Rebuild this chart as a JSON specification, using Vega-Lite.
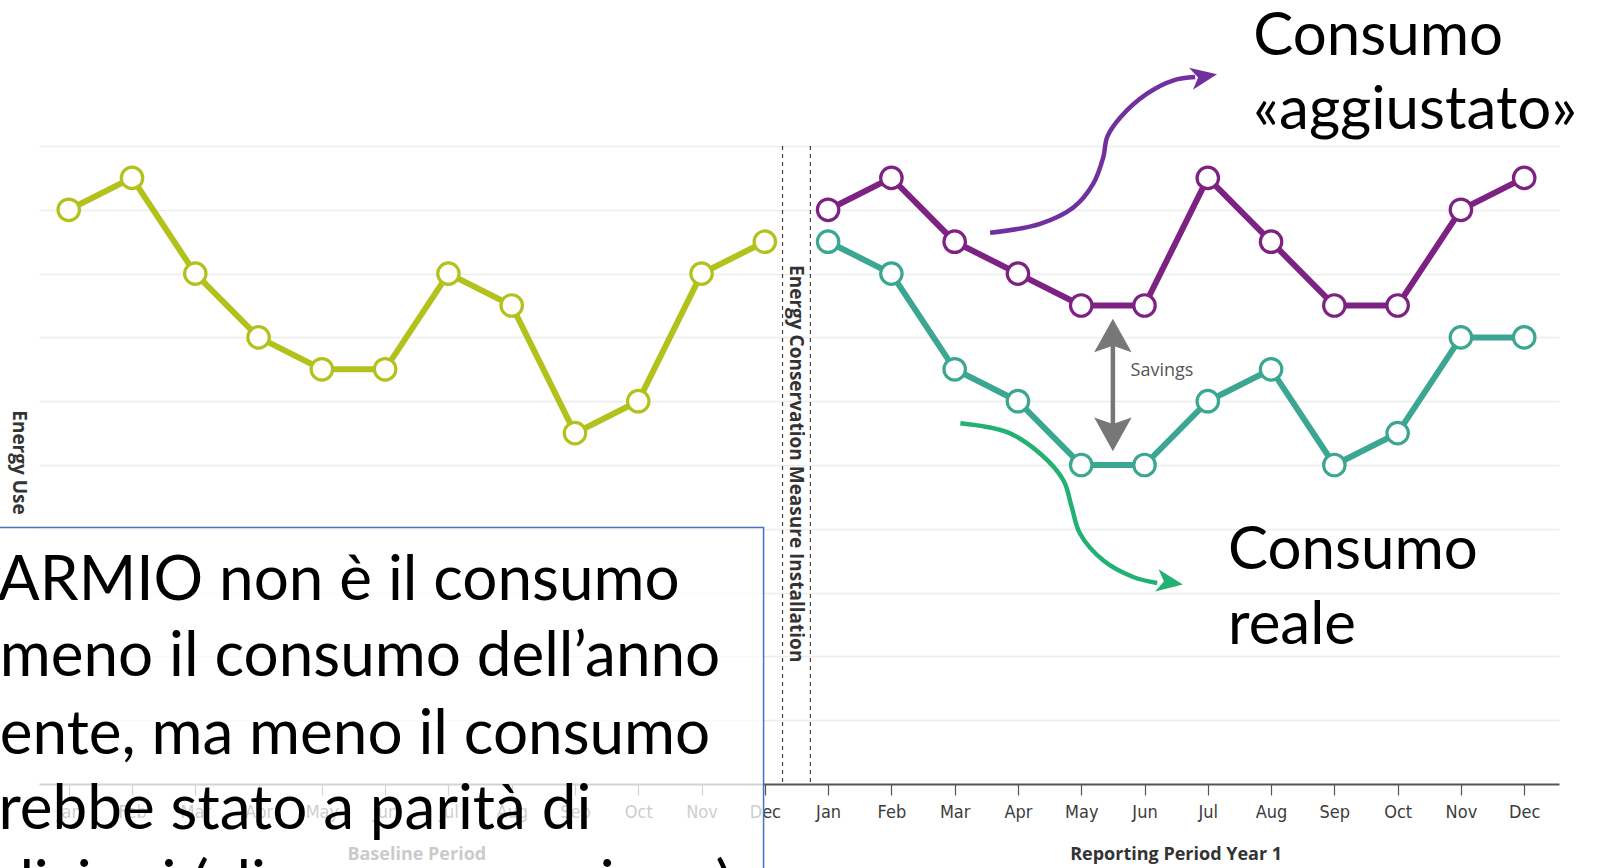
{
  "$schema": "https://vega.github.io/schema/vega-lite/v6.json",
  "width": 1520,
  "height": 638,
  "autosize": {"type": "none"},
  "padding": {"left": 39, "top": 146, "right": 49, "bottom": 84},
  "background": "white",
  "config": {"view": {"stroke": null}, "font": "Liberation Sans Narrow, DejaVu Sans Condensed, Open Sans"},
  "layer": [
    {
      "data": {"values": [
        {"month_index": 0, "series": "Baseline", "energy": 9},
        {"month_index": 1, "series": "Baseline", "energy": 9.5},
        {"month_index": 2, "series": "Baseline", "energy": 8},
        {"month_index": 3, "series": "Baseline", "energy": 7},
        {"month_index": 4, "series": "Baseline", "energy": 6.5},
        {"month_index": 5, "series": "Baseline", "energy": 6.5},
        {"month_index": 6, "series": "Baseline", "energy": 8},
        {"month_index": 7, "series": "Baseline", "energy": 7.5},
        {"month_index": 8, "series": "Baseline", "energy": 5.5},
        {"month_index": 9, "series": "Baseline", "energy": 6},
        {"month_index": 10, "series": "Baseline", "energy": 8},
        {"month_index": 11, "series": "Baseline", "energy": 8.5},
        {"month_index": 12, "series": "Adjusted", "energy": 9},
        {"month_index": 13, "series": "Adjusted", "energy": 9.5},
        {"month_index": 14, "series": "Adjusted", "energy": 8.5},
        {"month_index": 15, "series": "Adjusted", "energy": 8},
        {"month_index": 16, "series": "Adjusted", "energy": 7.5},
        {"month_index": 17, "series": "Adjusted", "energy": 7.5},
        {"month_index": 18, "series": "Adjusted", "energy": 9.5},
        {"month_index": 19, "series": "Adjusted", "energy": 8.5},
        {"month_index": 20, "series": "Adjusted", "energy": 7.5},
        {"month_index": 21, "series": "Adjusted", "energy": 7.5},
        {"month_index": 22, "series": "Adjusted", "energy": 9},
        {"month_index": 23, "series": "Adjusted", "energy": 9.5},
        {"month_index": 12, "series": "Actual", "energy": 8.5},
        {"month_index": 13, "series": "Actual", "energy": 8},
        {"month_index": 14, "series": "Actual", "energy": 6.5},
        {"month_index": 15, "series": "Actual", "energy": 6},
        {"month_index": 16, "series": "Actual", "energy": 5},
        {"month_index": 17, "series": "Actual", "energy": 5},
        {"month_index": 18, "series": "Actual", "energy": 6},
        {"month_index": 19, "series": "Actual", "energy": 6.5},
        {"month_index": 20, "series": "Actual", "energy": 5},
        {"month_index": 21, "series": "Actual", "energy": 5.5},
        {"month_index": 22, "series": "Actual", "energy": 7},
        {"month_index": 23, "series": "Actual", "energy": 7}
      ]},
      "layer": [
        {
          "mark": {"type": "line", "strokeWidth": 6},
          "encoding": {
            "x": {"field": "month_index", "type": "quantitative",
              "scale": {"domain": [-0.47, 23.55], "nice": false, "zero": false},
              "axis": {
                "values": [0,1,2,3,4,5,6,7,8,9,10,11,12,13,14,15,16,17,18,19,20,21,22,23],
                "labelExpr": "['Jan','Feb','Mar','Apr','May','Jun','Jul','Aug','Sep','Oct','Nov','Dec'][datum.value % 12]",
                "title": null, "grid": false,
                "domainColor": "#555555", "domainWidth": 2,
                "tickColor": "#555555", "tickSize": 11, "tickWidth": 1.2,
                "labelColor": "#3c3c3c", "labelFontSize": 18, "labelPadding": 8,
                "labelFlush": false, "labelOverlap": false
              }},
            "y": {"field": "energy", "type": "quantitative",
              "scale": {"domain": [0, 10], "nice": false, "zero": true},
              "axis": {
                "values": [1,2,3,4,5,6,7,8,9,10],
                "grid": true, "gridColor": "#ececec", "gridWidth": 1.5,
                "domain": false, "ticks": false, "labels": false,
                "title": "Energy Use", "titleAngle": 90, "titleX": -20.5, "titleY": 316,
                "titleAlign": "center", "titleBaseline": "middle",
                "titleFont": "Open Sans", "titleFontWeight": "bold", "titleFontSize": 19, "titleColor": "#333333"
              }},
            "color": {"field": "series", "type": "nominal",
              "scale": {"domain": ["Baseline", "Adjusted", "Actual"], "range": ["#b3c11c", "#7d2182", "#3ba691"]},
              "legend": null},
            "detail": {"field": "series"}
          }
        },
        {
          "mark": {"type": "point", "fill": "white", "strokeWidth": 3.2, "size": 460, "opacity": 1},
          "encoding": {
            "x": {"field": "month_index", "type": "quantitative", "scale": {"domain": [-0.47, 23.55], "nice": false, "zero": false}},
            "y": {"field": "energy", "type": "quantitative", "scale": {"domain": [0, 10], "nice": false, "zero": true}},
            "stroke": {"field": "series", "type": "nominal",
              "scale": {"domain": ["Baseline", "Adjusted", "Actual"], "range": ["#b3c11c", "#7d2182", "#3ba691"]},
              "legend": null}
          }
        }
      ]
    },
    {
      "data": {"values": [{"boundary": "before installation", "position": 11.28}, {"boundary": "after installation", "position": 11.72}]},
      "mark": {"type": "rule", "color": "#444444", "strokeWidth": 1.2, "strokeDash": [4, 4]},
      "encoding": {
        "x": {"field": "position", "type": "quantitative", "scale": {"domain": [-0.47, 23.55], "nice": false, "zero": false}}
      }
    },
    {
      "data": {"values": [{"label": "Energy Conservation Measure Installation"}]},
      "mark": {"type": "text", "angle": 90, "align": "center", "baseline": "middle", "font": "Open Sans", "fontWeight": "bold", "fontSize": 19, "color": "#333333"},
      "encoding": {
        "x": {"datum": 11.5, "type": "quantitative", "scale": {"domain": [-0.47, 23.55], "nice": false, "zero": false}},
        "y": {"datum": 5.02, "type": "quantitative", "scale": {"domain": [0, 10], "nice": false, "zero": true}},
        "text": {"field": "label"}
      }
    },
    {
      "data": {"values": [{"span": "savings"}]},
      "mark": {"type": "rule", "color": "#777777", "strokeWidth": 4.5},
      "encoding": {
        "x": {"datum": 16.5, "type": "quantitative", "scale": {"domain": [-0.47, 23.55], "nice": false, "zero": false}},
        "y": {"datum": 5.55, "type": "quantitative", "scale": {"domain": [0, 10], "nice": false, "zero": true}},
        "y2": {"datum": 6.95}
      }
    },
    {
      "data": {"values": [{"head": "up"}]},
      "mark": {"type": "point", "shape": "M 0 -1 L 1 0.8 L 0 0.45 L -1 0.8 Z", "filled": true, "color": "#777777", "size": 1400, "opacity": 1},
      "encoding": {
        "x": {"datum": 16.5, "type": "quantitative", "scale": {"domain": [-0.47, 23.55], "nice": false, "zero": false}},
        "y": {"datum": 7.0, "type": "quantitative", "scale": {"domain": [0, 10], "nice": false, "zero": true}}
      }
    },
    {
      "data": {"values": [{"head": "down"}]},
      "mark": {"type": "point", "shape": "M 0 1 L 1 -0.8 L 0 -0.45 L -1 -0.8 Z", "filled": true, "color": "#777777", "size": 1400, "opacity": 1},
      "encoding": {
        "x": {"datum": 16.5, "type": "quantitative", "scale": {"domain": [-0.47, 23.55], "nice": false, "zero": false}},
        "y": {"datum": 5.51, "type": "quantitative", "scale": {"domain": [0, 10], "nice": false, "zero": true}}
      }
    },
    {
      "data": {"values": [{"label": "Savings"}]},
      "mark": {"type": "text", "align": "left", "baseline": "middle", "font": "Open Sans", "fontSize": 18, "color": "#555555"},
      "encoding": {
        "x": {"datum": 16.78, "type": "quantitative", "scale": {"domain": [-0.47, 23.55], "nice": false, "zero": false}},
        "y": {"datum": 6.48, "type": "quantitative", "scale": {"domain": [0, 10], "nice": false, "zero": true}},
        "text": {"field": "label"}
      }
    },
    {
      "data": {"values": [
        {"step": 1, "px": 14.56, "py": 8.64},
        {"step": 2, "px": 15.35, "py": 8.78},
        {"step": 3, "px": 15.88, "py": 9.04},
        {"step": 4, "px": 16.19, "py": 9.41},
        {"step": 5, "px": 16.35, "py": 9.83},
        {"step": 6, "px": 16.41, "py": 10.14},
        {"step": 7, "px": 16.62, "py": 10.45},
        {"step": 8, "px": 17.04, "py": 10.82},
        {"step": 9, "px": 17.46, "py": 11.03},
        {"step": 10, "px": 17.8, "py": 11.08}
      ]},
      "mark": {"type": "line", "strokeWidth": 4.5, "interpolate": "catmull-rom", "color": "#7030a0"},
      "encoding": {
        "x": {"field": "px", "type": "quantitative", "scale": {"domain": [-0.47, 23.55], "nice": false, "zero": false}},
        "y": {"field": "py", "type": "quantitative", "scale": {"domain": [0, 10], "nice": false, "zero": true}},
        "order": {"field": "step"}
      }
    },
    {
      "data": {"values": [
        {"step": 1, "px": 14.09, "py": 5.655},
        {"step": 2, "px": 14.83, "py": 5.514},
        {"step": 3, "px": 15.35, "py": 5.18},
        {"step": 4, "px": 15.72, "py": 4.757},
        {"step": 5, "px": 15.85, "py": 4.339},
        {"step": 6, "px": 15.98, "py": 3.926},
        {"step": 7, "px": 16.35, "py": 3.503},
        {"step": 8, "px": 16.83, "py": 3.241},
        {"step": 9, "px": 17.2, "py": 3.15}
      ]},
      "mark": {"type": "line", "strokeWidth": 4.5, "interpolate": "catmull-rom", "color": "#22b173"},
      "encoding": {
        "x": {"field": "px", "type": "quantitative", "scale": {"domain": [-0.47, 23.55], "nice": false, "zero": false}},
        "y": {"field": "py", "type": "quantitative", "scale": {"domain": [0, 10], "nice": false, "zero": true}},
        "order": {"field": "step"}
      }
    },
    {
      "data": {"values": [{"px": 17.94, "py": 11.09, "direction": -10}]},
      "mark": {"type": "point", "shape": "M 1 0 L -1 -0.85 L -0.45 0 L -1 0.85 Z", "filled": true, "size": 700, "opacity": 1, "color": "#7030a0"},
      "encoding": {
        "x": {"field": "px", "type": "quantitative", "scale": {"domain": [-0.47, 23.55], "nice": false, "zero": false}},
        "y": {"field": "py", "type": "quantitative", "scale": {"domain": [0, 10], "nice": false, "zero": true}},
        "angle": {"field": "direction", "type": "quantitative", "scale": null}
      }
    },
    {
      "data": {"values": [{"px": 17.4, "py": 3.16, "direction": 9}]},
      "mark": {"type": "point", "shape": "M 1 0 L -1 -0.85 L -0.45 0 L -1 0.85 Z", "filled": true, "size": 700, "opacity": 1, "color": "#22b173"},
      "encoding": {
        "x": {"field": "px", "type": "quantitative", "scale": {"domain": [-0.47, 23.55], "nice": false, "zero": false}},
        "y": {"field": "py", "type": "quantitative", "scale": {"domain": [0, 10], "nice": false, "zero": true}},
        "angle": {"field": "direction", "type": "quantitative", "scale": null}
      }
    },
    {
      "data": {"values": [
        {"label": "Consumo", "px": 18.72, "py": 11.43},
        {"label": "«aggiustato»", "px": 18.72, "py": 10.27},
        {"label": "Consumo", "px": 18.32, "py": 3.363},
        {"label": "reale", "px": 18.32, "py": 2.187}
      ]},
      "mark": {"type": "text", "align": "left", "baseline": "alphabetic", "font": "Lato", "fontSize": 60, "color": "#000000"},
      "encoding": {
        "x": {"field": "px", "type": "quantitative", "scale": {"domain": [-0.47, 23.55], "nice": false, "zero": false}},
        "y": {"field": "py", "type": "quantitative", "scale": {"domain": [0, 10], "nice": false, "zero": true}},
        "text": {"field": "label"}
      }
    },
    {
      "data": {"values": [
        {"label": "Baseline Period", "px": 5.5},
        {"label": "Reporting Period Year 1", "px": 17.5}
      ]},
      "mark": {"type": "text", "align": "center", "baseline": "middle", "font": "Open Sans", "fontWeight": "bold", "fontSize": 18, "color": "#333333"},
      "encoding": {
        "x": {"field": "px", "type": "quantitative", "scale": {"domain": [-0.47, 23.55], "nice": false, "zero": false}},
        "y": {"datum": -1.12, "type": "quantitative", "scale": {"domain": [0, 10], "nice": false, "zero": true}},
        "text": {"field": "label"}
      }
    },
    {
      "data": {"values": [{"box": "note"}]},
      "mark": {"type": "rect", "fill": "white", "fillOpacity": 0.74, "stroke": "#4472c4", "strokeWidth": 1.5, "strokeOpacity": 1},
      "encoding": {
        "x": {"datum": -2, "type": "quantitative", "scale": {"domain": [-0.47, 23.55], "nice": false, "zero": false}},
        "x2": {"datum": 10.98},
        "y": {"datum": 4.02, "type": "quantitative", "scale": {"domain": [0, 10], "nice": false, "zero": true}},
        "y2": {"datum": -3}
      }
    },
    {
      "data": {"values": [
        {"line": "ARMIO non è il consumo", "px": -1.12, "py": 2.89},
        {"line": "meno il consumo dell’anno", "px": -1.09, "py": 1.685},
        {"line": "ente, ma meno il consumo", "px": -1.09, "py": 0.478},
        {"line": "rebbe stato a parità di", "px": -1.11, "py": -0.707},
        {"line": "dizioni (clima, occupazione)", "px": -1.1, "py": -1.9}
      ]},
      "mark": {"type": "text", "align": "left", "baseline": "alphabetic", "font": "Lato", "fontSize": 62, "color": "#000000"},
      "encoding": {
        "x": {"field": "px", "type": "quantitative", "scale": {"domain": [-0.47, 23.55], "nice": false, "zero": false}},
        "y": {"field": "py", "type": "quantitative", "scale": {"domain": [0, 10], "nice": false, "zero": true}},
        "text": {"field": "line"}
      }
    }
  ]
}
